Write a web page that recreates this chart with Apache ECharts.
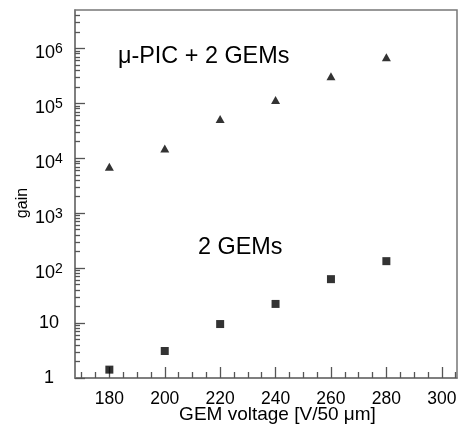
<!DOCTYPE html>
<html><head><meta charset="utf-8">
<script src="https://cdn.jsdelivr.net/npm/echarts@6/dist/echarts.min.js"></script>
<style>html,body{margin:0;padding:0;background:#fff}#c{width:459px;height:431px}</style>
</head><body><div id="c"></div>
<script>
const voltages = [180, 200, 220, 240, 260, 280];
const gainPicGem = [7000, 15000, 52000, 115000, 310000, 690000];
const gainTwoGem = [1.42, 3.1, 9.6, 22.3, 63, 134];
const xMajorTicks = [180, 200, 220, 240, 260, 280, 300];
const xMinorTicks = [170, 175, 185, 190, 195, 205, 210, 215, 225, 230, 235, 245, 250, 255, 265, 270, 275, 285, 290, 295, 305];
const yPlainLabels = [1, 10];
const ySupLabels = [100, 1e3, 1e4, 1e5, 1e6];
const yMajorTicks = [1, 10, 100, 1e3, 1e4, 1e5, 1e6];
const yMinorMantissas = [2, 3, 4, 5, 6, 7, 8, 9];
const xLabelText = 'GEM voltage [V/50 \u03bcm]';
const yLabelText = 'gain';
const annoTop = '\u03bc-PIC + 2 GEMs';
const annoBottom = '2 GEMs';

const yMinorTicks = [];
yMajorTicks.forEach(d => yMinorMantissas.forEach(m => { if (d * m < 5e6) yMinorTicks.push(d * m); }));

const FONT = '"Liberation Sans", Arial, sans-serif';
const tickColor = '#555';
const X_MIN = 167.6, X_MAX = 305.5, Y_MIN = 1, Y_MAX = 5e6;

const chart = echarts.init(document.getElementById('c'), null, {renderer: 'canvas'});
const xBase = {
  type: 'value', min: X_MIN, max: X_MAX, position: 'bottom', splitLine: {show: false}
};
const yBase = {
  type: 'log', logBase: 10, min: Y_MIN, max: Y_MAX, position: 'left', splitLine: {show: false}
};
chart.setOption({
  animation: false,
  backgroundColor: '#fff',
  grid: {left: 75, right: 2, top: 10, bottom: 53, show: true, borderColor: '#777', borderWidth: 1.5, outerBoundsMode: 'none', containLabel: false},
  xAxis: [
    Object.assign({}, xBase, {
      axisLine: {show: true, lineStyle: {color: '#777', width: 1.5}},
      axisTick: {show: true, inside: true, length: 11, customValues: xMajorTicks, lineStyle: {color: tickColor, width: 1.3}},
      axisLabel: {show: true, customValues: xMajorTicks, fontSize: 17.5, fontFamily: FONT, color: '#000', margin: 12}
    }),
    Object.assign({}, xBase, {
      axisLine: {show: false},
      axisTick: {show: true, inside: true, length: 6, customValues: xMinorTicks, lineStyle: {color: tickColor, width: 1.3}},
      axisLabel: {show: false}
    })
  ],
  yAxis: [
    Object.assign({}, yBase, {
      axisLine: {show: true, lineStyle: {color: '#777', width: 1.5}},
      axisTick: {show: true, inside: true, length: 10, customValues: yMajorTicks, lineStyle: {color: tickColor, width: 1.3}},
      axisLabel: {
        show: true, customValues: ySupLabels, align: 'center', margin: 26, padding: [10, 0, 0, 0],
        formatter: v => '{b|10}{s|' + Math.round(Math.log10(v)) + '}',
        rich: {
          b: {fontSize: 18, fontFamily: FONT, color: '#000', lineHeight: 22},
          s: {fontSize: 14, fontFamily: FONT, color: '#000', lineHeight: 13, verticalAlign: 'top'}
        }
      }
    }),
    Object.assign({}, yBase, {
      axisLine: {show: false},
      axisTick: {show: true, inside: true, length: 5, customValues: yMinorTicks, lineStyle: {color: tickColor, width: 1.3}},
      axisLabel: {
        show: true, customValues: yPlainLabels, align: 'center', margin: 26, padding: [3, 0, 0, 0],
        fontSize: 18, fontFamily: FONT, color: '#000',
        formatter: v => String(Math.round(v))
      }
    })
  ],
  series: [
    {
      type: 'scatter', xAxisIndex: 0, yAxisIndex: 0, symbol: 'triangle', symbolSize: [9, 8],
      itemStyle: {color: '#000'},
      data: voltages.map((v, i) => [v, gainPicGem[i]])
    },
    {
      type: 'scatter', xAxisIndex: 0, yAxisIndex: 0, symbol: 'rect', symbolSize: 8,
      itemStyle: {color: '#000'},
      data: voltages.map((v, i) => [v, gainTwoGem[i]])
    }
  ],
  graphic: [
    {type: 'text', x: 118, y: 57, style: {text: annoTop, font: '23.4px ' + FONT, fill: '#000', align: 'left', verticalAlign: 'middle'}},
    {type: 'text', x: 198, y: 247.5, style: {text: annoBottom, font: '23.4px ' + FONT, fill: '#000', align: 'left', verticalAlign: 'middle'}},
    {type: 'text', x: 23, y: 203, rotation: Math.PI / 2, style: {text: yLabelText, font: '16px ' + FONT, fill: '#000', align: 'center', verticalAlign: 'middle'}},
    {type: 'text', x: 277.5, y: 415, style: {text: xLabelText, font: '19px ' + FONT, fill: '#000', align: 'center', verticalAlign: 'middle'}}
  ]
});
</script>
</body></html>
